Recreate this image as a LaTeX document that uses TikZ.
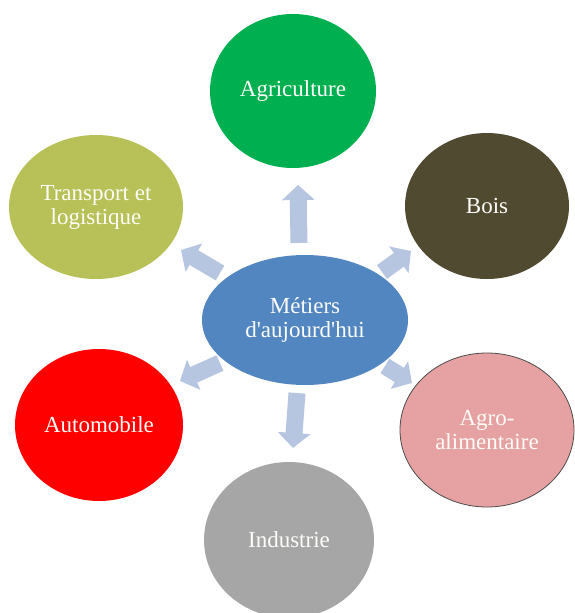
\documentclass[tikz,border=0pt]{standalone}
\usepackage{fontspec}
\setmainfont{Liberation Serif}[Ligatures=TeXOff]
\usetikzlibrary{shapes.geometric,arrows.meta}
\definecolor{cAgri}{HTML}{00B050}
\definecolor{cTrans}{HTML}{B8C157}
\definecolor{cBois}{HTML}{504B30}
\definecolor{cAuto}{HTML}{FF0000}
\definecolor{cAgro}{HTML}{E6A2A2}
\definecolor{cInd}{HTML}{A6A6A6}
\definecolor{cCenter}{HTML}{5286C0}
\definecolor{cArrow}{HTML}{B7C6E0}
\definecolor{cText}{HTML}{FCFCF8}
\tikzset{
  blob/.style={ellipse, inner sep=0pt, text=cText, align=center,
    font=\fontsize{23}{24}\selectfont},
  blockarrow/.style={draw=cArrow, line width=17pt,
    -{Triangle[width=32pt,length=15pt,fill=cArrow,color=cArrow]}}
}
\begin{document}
\begin{tikzpicture}[x=1pt,y=-1pt]
\useasboundingbox (0,0) rectangle (574,613);
% circles
\node[blob, fill=cAgri, minimum width=166pt, minimum height=154pt] (agri) at (293,91) {Agriculture};
\node[blob, fill=cTrans, minimum width=174pt, minimum height=144pt] (trans) at (96,207) {Transport et\\logistique};
\node[blob, fill=cBois, minimum width=164pt, minimum height=146pt] (bois) at (487,206) {Bois};
\node[blob, fill=cAuto, minimum width=168pt, minimum height=152pt] (auto) at (99,425) {Automobile};
\node[blob, fill=cAgro, draw=black!70, line width=0.8pt, minimum width=174pt, minimum height=154pt] (agro) at (487,430) {Agro-\\alimentaire};
\node[blob, fill=cInd, minimum width=170pt, minimum height=156pt] (ind) at (289,540) {Industrie};
\node[blob, fill=cCenter, minimum width=206pt, minimum height=130pt] (center) at (305,320) {Métiers\\d'aujourd'hui};
% arrow end points
\coordinate (upA) at (299,243);  \coordinate (upB) at (298,185);
\coordinate (ulA) at (220,273);  \coordinate (ulB) at (181,250);
\coordinate (urA) at (382,272);  \coordinate (urB) at (411,251);
\coordinate (llA) at (220,363);  \coordinate (llB) at (180,381);
\coordinate (lrA) at (385,366);  \coordinate (lrB) at (412,383);
\coordinate (dnA) at (297,393);  \coordinate (dnB) at (293,448);
\draw[blockarrow] (upA) -- (upB);
\draw[blockarrow] (ulA) -- (ulB);
\draw[blockarrow] (urA) -- (urB);
\draw[blockarrow] (llA) -- (llB);
\draw[blockarrow] (lrA) -- (lrB);
\draw[blockarrow] (dnA) -- (dnB);
\end{tikzpicture}
\end{document}
